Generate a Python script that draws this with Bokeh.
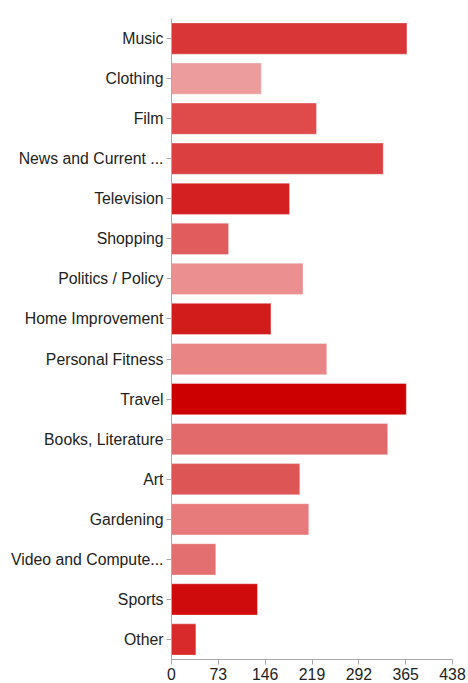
from bokeh.plotting import figure
from bokeh.models import FactorRange, Range1d, FixedTicker, ColumnDataSource
from bokeh.embed import file_html
from bokeh.resources import INLINE

categories = ["Music", "Clothing", "Film", "News and Current ...", "Television",
              "Shopping", "Politics / Policy", "Home Improvement", "Personal Fitness",
              "Travel", "Books, Literature", "Art", "Gardening",
              "Video and Compute...", "Sports", "Other"]
values = [367, 140, 226, 330, 184, 89, 205, 155, 242, 366, 337, 200, 214, 69, 134, 38]
colors = ["#d93637", "#ec9c9d", "#df4a4b", "#db3f40", "#d42020", "#e05c5d",
          "#eb8f90", "#d21c1c", "#ea8586", "#cc0000", "#e36a6b", "#de5556",
          "#e77b7c", "#e46f70", "#d00b0b", "#d82a2a"]
x_ticks = [0, 73, 146, 219, 292, 365, 438]

source = ColumnDataSource(dict(cat=categories, val=values, color=colors))

p = figure(width=466, height=683,
           y_range=FactorRange(factors=list(reversed(categories))),
           x_range=Range1d(0, 438),
           output_backend="svg", toolbar_location=None,
           min_border_left=171, min_border_right=14,
           min_border_top=18, min_border_bottom=24)

p.hbar(y="cat", right="val", left=0, height=0.78, source=source,
       fill_color="color", line_color="white", line_alpha=0.35, line_width=1)

p.xaxis.ticker = FixedTicker(ticks=x_ticks)
p.xgrid.grid_line_color = None
p.ygrid.grid_line_color = None
p.outline_line_color = None

for ax in (p.xaxis, p.yaxis):
    ax.axis_line_color = "#aaaaaa"
    ax.major_tick_line_color = "#aaaaaa"
    ax.minor_tick_line_color = None
    ax.major_tick_out = 5
    ax.major_tick_in = 0
    ax.major_label_text_font = "Liberation Sans"
    ax.major_label_text_font_size = "15.8px"
    ax.major_label_text_color = "#222222"
    ax.major_label_standoff = 3

open("out.html", "w").write(file_html(p, INLINE))
